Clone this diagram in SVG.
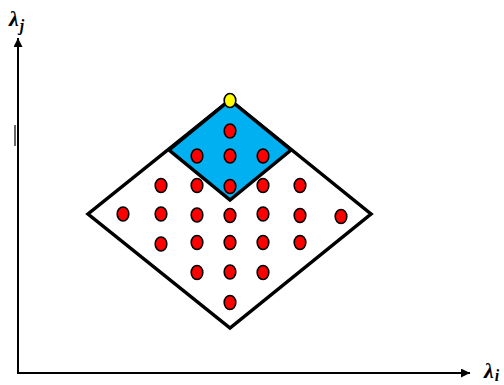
<svg xmlns="http://www.w3.org/2000/svg" width="504" height="385" viewBox="0 0 504 385">
<style>
.axis{stroke:#000;stroke-width:2;fill:none}
.edge{stroke:#000;stroke-width:3.5;stroke-linejoin:miter}
.dot{fill:#ff0000;stroke:#000;stroke-width:1.6}
.lbl{font-family:"Liberation Serif","Times New Roman",serif;font-weight:bold;font-style:italic;font-size:22px;fill:#000}
.sub{font-size:16px}
</style>
<defs>
<marker id="arr" viewBox="0 0 10 10" refX="10" refY="5" markerWidth="10" markerHeight="9" markerUnits="userSpaceOnUse" orient="auto">
<path d="M0,0 L10,5 L0,10 z" fill="#000"/>
</marker>
</defs>
<rect width="504" height="385" fill="#fff"/>
<g id="connectors">
<line class="axis" x1="18" y1="373" x2="18" y2="38" marker-end="url(#arr)"/>
<line class="axis" x1="17" y1="373" x2="470" y2="373" marker-end="url(#arr)"/>
<line x1="15" y1="125" x2="15" y2="146" stroke="#000" stroke-width="1.2"/>
</g>
<g id="label-y"><text class="lbl" x="9" y="26">λ<tspan class="sub" dx="1" dy="5">j</tspan></text></g>
<g id="label-x"><text class="lbl" x="484" y="378">λ<tspan class="sub" dx="1" dy="3">i</tspan></text></g>
<g id="big-diamond"><polygon class="edge" points="230,100 371,214 230,328 88,214" fill="#fff"/></g>
<g id="blue-diamond"><polygon class="edge" points="230,100 291,150 230,200 169,150" fill="#00b0f0"/></g>
<g id="top-point"><ellipse cx="230" cy="100.5" rx="5.8" ry="7" fill="#ffff00" stroke="#000" stroke-width="1.6"/></g>
<g id="dots">
<ellipse class="dot" cx="230" cy="131" rx="5.8" ry="7"/>
<ellipse class="dot" cx="197" cy="156" rx="5.8" ry="7"/>
<ellipse class="dot" cx="230" cy="156" rx="5.8" ry="7"/>
<ellipse class="dot" cx="263" cy="156" rx="5.8" ry="7"/>
<ellipse class="dot" cx="161" cy="185.5" rx="5.8" ry="7"/>
<ellipse class="dot" cx="197" cy="185.5" rx="5.8" ry="7"/>
<ellipse class="dot" cx="230" cy="186.5" rx="5.8" ry="7"/>
<ellipse class="dot" cx="263" cy="185.5" rx="5.8" ry="7"/>
<ellipse class="dot" cx="300" cy="185.5" rx="5.8" ry="7"/>
<ellipse class="dot" cx="123" cy="214" rx="5.8" ry="7"/>
<ellipse class="dot" cx="161" cy="214" rx="5.8" ry="7"/>
<ellipse class="dot" cx="197" cy="215" rx="5.8" ry="7"/>
<ellipse class="dot" cx="230" cy="215.5" rx="5.8" ry="7"/>
<ellipse class="dot" cx="263" cy="214" rx="5.8" ry="7"/>
<ellipse class="dot" cx="300" cy="215.5" rx="5.8" ry="7"/>
<ellipse class="dot" cx="341" cy="216.5" rx="5.8" ry="7"/>
<ellipse class="dot" cx="161" cy="244" rx="5.8" ry="7"/>
<ellipse class="dot" cx="197" cy="242.5" rx="5.8" ry="7"/>
<ellipse class="dot" cx="230" cy="242.5" rx="5.8" ry="7"/>
<ellipse class="dot" cx="263" cy="242.5" rx="5.8" ry="7"/>
<ellipse class="dot" cx="300" cy="242.5" rx="5.8" ry="7"/>
<ellipse class="dot" cx="197" cy="272.5" rx="5.8" ry="7"/>
<ellipse class="dot" cx="230" cy="272" rx="5.8" ry="7"/>
<ellipse class="dot" cx="263" cy="272.5" rx="5.8" ry="7"/>
<ellipse class="dot" cx="230" cy="302.5" rx="5.8" ry="7"/>
</g>
</svg>
